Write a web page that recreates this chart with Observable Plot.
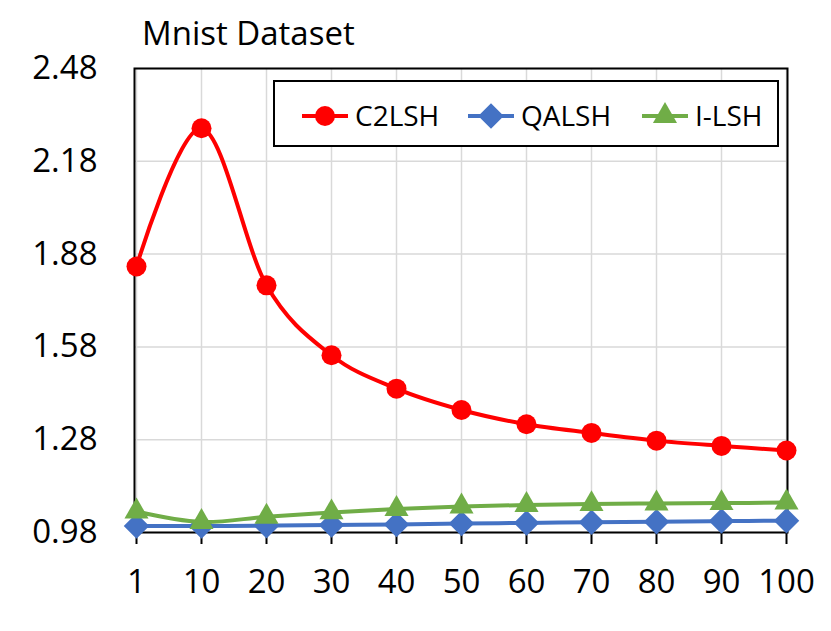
<!DOCTYPE html>
<html>
<head>
<meta charset="utf-8">
<script src="https://cdn.jsdelivr.net/npm/d3@7"></script>
<script src="https://cdn.jsdelivr.net/npm/@observablehq/plot@0.6"></script>
<style>
  html, body { margin: 0; padding: 0; background: #fff; }
  #wrap { position: relative; width: 831px; height: 631px; font-family: "Open Sans", sans-serif; }
  #title { position: absolute; left: 142px; top: 13px; font-size: 33px; line-height: 40px; color: #000; white-space: nowrap; }
  #legend { position: absolute; left: 273px; top: 80px; width: 506px; height: 67px; border: 2px solid #000; background: #fff; box-sizing: border-box; }
  #legend svg { position: absolute; left: 0; top: 0; overflow: visible; }
</style>
</head>
<body>
<div id="wrap">
  <div id="chart"></div>
  <div id="title">Mnist Dataset</div>
  <div id="legend"></div>
</div>
<script>
const categories = ["1", "10", "20", "30", "40", "50", "60", "70", "80", "90", "100"];
const c2lsh = [1.840, 2.287, 1.779, 1.553, 1.445, 1.376, 1.330, 1.302, 1.277, 1.260, 1.245];
const qalsh = [1.001, 1.001, 1.002, 1.004, 1.006, 1.009, 1.011, 1.013, 1.015, 1.017, 1.018];
const ilsh  = [1.048, 1.014, 1.031, 1.045, 1.056, 1.064, 1.069, 1.072, 1.074, 1.075, 1.077];
const yTicks = [0.98, 1.28, 1.58, 1.88, 2.18, 2.48];

const seriesNames = ["C2LSH", "QALSH", "I-LSH"];
const seriesColors = ["#ff0000", "#4472c4", "#70ad47"];
const seriesSymbols = ["circle", "diamond2", "triangle2"];
const seriesValues = [c2lsh, qalsh, ilsh];
const seriesR = [10, 11.5, 11.5];

const rows = [];
seriesNames.forEach((name, si) => {
  categories.forEach((c, i) => rows.push({series: name, x: c, y: seriesValues[si][i]}));
});

const curve = d3.curveCardinal.tension(0);

const marks = [
  Plot.gridX(categories, {stroke: "#d9d9d9", strokeOpacity: 1, strokeWidth: 1.5}),
  Plot.gridY(yTicks, {stroke: "#d9d9d9", strokeOpacity: 1, strokeWidth: 1.5}),
  Plot.frame({stroke: "#000", strokeWidth: 2}),
  Plot.axisY(yTicks, {tickSize: 0, tickPadding: 37, tickFormat: d3.format(".2f"), fontSize: 33, fill: "#000", label: null}),
  Plot.axisX(categories, {tickSize: 12, tickPadding: 25, fontSize: 33, stroke: "#000", strokeWidth: 2, fill: "#000", label: null})
];
seriesNames.forEach((name, si) => {
  const d = rows.filter(r => r.series === name);
  marks.push(Plot.line(d, {x: "x", y: "y", stroke: seriesColors[si], strokeWidth: 4, curve}));
  marks.push(Plot.dot(d, {x: "x", y: "y", fill: seriesColors[si], stroke: "none", symbol: seriesSymbols[si], r: seriesR[si]}));
});

const chart = Plot.plot({
  width: 831,
  height: 631,
  marginLeft: 134,
  marginRight: 44,
  marginTop: 68,
  marginBottom: 99,
  style: {fontFamily: "Open Sans, sans-serif", background: "#fff", overflow: "visible"},
  x: {type: "point", domain: categories, padding: 0, axis: null, label: null},
  y: {domain: [0.98, 2.48], axis: null, label: null},
  marks
});
document.getElementById("chart").appendChild(chart);

// Legend
const legendX = [27, 193, 367];
const lg = d3.select("#legend").append("svg").attr("width", 506).attr("height", 67);
seriesNames.forEach((name, si) => {
  const g = lg.append("g").attr("transform", `translate(${legendX[si]},34)`);
  g.append("line").attr("x1", 0).attr("x2", 46).attr("y1", 0).attr("y2", 0)
    .attr("stroke", seriesColors[si]).attr("stroke-width", 4);
  g.append("path").attr("transform", "translate(23,0)")
    .attr("d", d3.symbol(si === 0 ? d3.symbolCircle : si === 1 ? d3.symbolDiamond2 : d3.symbolTriangle2, Math.PI * seriesR[si] * seriesR[si])())
    .attr("fill", seriesColors[si]);
  g.append("text").attr("x", 53).attr("y", 0).attr("dy", "0.36em")
    .attr("font-size", 28).attr("font-family", "Open Sans, sans-serif").attr("fill", "#000").text(name);
});
</script>
</body>
</html>
